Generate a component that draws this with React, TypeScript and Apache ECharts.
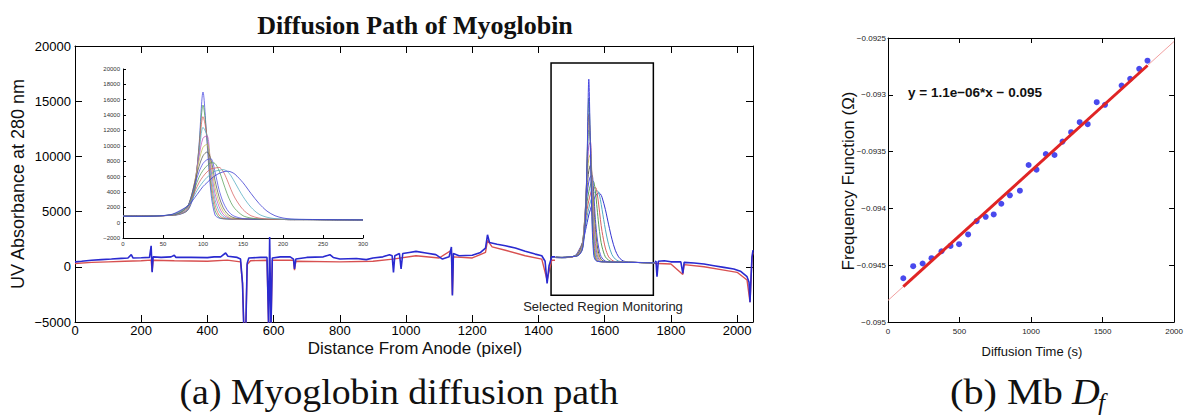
import React, { useEffect, useRef } from 'react';
import * as echarts from 'echarts';

// ---------- (a) main trace: [pixel, absorbance] ----------
const mainBlue: [number, number][] = [
  [0, 450], [20, 500], [50, 600], [80, 650], [110, 700], [140, 760], [160, 800], [170, 1100], [175, 800],
  [200, 820], [225, 850], [230, 1900], [233, -500], [236, 900], [260, 850], [290, 900], [300, 1050], [305, 850],
  [350, 850], [400, 830], [420, 900], [440, 900], [455, 1250], [462, 950], [490, 850], [500, 700], [506, -1500],
  [510, -5600], [516, -5600], [520, 300], [525, 800], [560, 850], [580, 850], [585, -5600], [588, 2700],
  [592, -5600], [596, 800], [620, 900], [650, 900], [660, 700], [663, -200], [667, 700], [700, 850], [750, 900],
  [770, 1100], [780, 850], [800, 700], [850, 750], [880, 650], [900, 800], [930, 900], [950, 1100], [958, 1000],
  [962, -500], [966, 1000], [980, 1200], [985, -200], [990, 1200], [1010, 1300], [1030, 1400], [1060, 1250],
  [1090, 1100], [1110, 700], [1130, 900], [1137, 1800], [1140, -2600], [1143, 1200], [1160, 1000], [1200, 1050],
  [1225, 1300], [1240, 1700], [1246, 2900], [1252, 2200], [1275, 2050], [1300, 1900], [1330, 1700], [1360, 1400],
  [1390, 1150], [1410, 1000], [1420, 500], [1426, -1500], [1432, 100], [1440, 900], [1450, 900]
];
const mainBlueTail: [number, number][] = [
  [1752, 450], [1755, 500], [1758, -900], [1762, 500], [1780, 550], [1800, 450], [1830, 450], [1836, -600],
  [1840, 400], [1870, 350], [1900, 250], [1930, 100], [1960, -50], [1990, -200], [2010, -400], [2030, -900],
  [2036, -1400], [2039, -3200], [2042, -1000], [2045, 900], [2048, 1500]
];
const mainRed: [number, number][] = [
  [0, 300], [50, 400], [100, 450], [150, 500], [200, 550], [230, 600], [233, -400], [236, 600], [300, 550],
  [400, 500], [460, 600], [500, 450], [506, -1500], [510, -5600], [516, -5600], [520, 200], [530, 550], [580, 600],
  [585, -5600], [592, -5600], [596, 600], [660, 600], [663, -300], [667, 500], [800, 450], [900, 500], [960, 700],
  [1030, 1000], [1100, 800], [1137, 1500], [1140, -2500], [1143, 900], [1200, 800], [1240, 1300], [1246, 2400],
  [1260, 1800], [1300, 1500], [1360, 1000], [1410, 700], [1426, -1200], [1440, 600], [1450, 600]
];
const mainRedTail: [number, number][] = [
  [1752, 300], [1762, 300], [1800, 250], [1836, -700], [1840, 200], [1900, 0], [1960, -300], [2000, -500],
  [2030, -1200], [2039, -3200], [2045, 800], [2048, 1300]
];
// where the inset's pixel 0 sits on the main axis
const regionStart = 1452;

// ---------- inset: selected region, one array per monitored profile ----------
const insetX = [0, 20, 40, 60, 70, 80, 85, 90, 95, 100, 105, 110, 115, 120, 125, 130, 135, 140, 150, 160, 170, 180, 190, 200, 210, 230, 260, 300];
const p1 = [880, 850, 900, 950, 1050, 1500, 2400, 4300, 10000, 17000, 10500, 3800, 1000, 600, 500, 480, 460, 450, 450, 440, 430, 420, 420, 410, 400, 400, 380, 360];
const p2 = [880, 860, 900, 950, 1080, 1550, 2600, 4700, 9800, 15300, 11000, 4600, 1600, 700, 520, 480, 460, 450, 450, 440, 430, 420, 420, 410, 400, 400, 380, 360];
const p3 = [870, 850, 890, 950, 1100, 1600, 2800, 5000, 9500, 13800, 11200, 5400, 2300, 1000, 600, 500, 470, 450, 450, 440, 430, 420, 420, 410, 400, 400, 380, 360];
const p4 = [870, 850, 890, 960, 1120, 1700, 3000, 5300, 9000, 12400, 11300, 6200, 3000, 1500, 800, 550, 480, 460, 450, 440, 430, 420, 420, 410, 400, 400, 380, 360];
const p5 = [860, 850, 880, 960, 1150, 1800, 3200, 5500, 8600, 11000, 11300, 7000, 3800, 2100, 1100, 700, 530, 470, 450, 440, 430, 420, 420, 410, 400, 400, 380, 360];
const p6 = [860, 840, 880, 970, 1180, 1900, 3300, 5500, 8000, 9800, 10200, 7700, 4600, 2700, 1500, 900, 600, 500, 460, 440, 430, 420, 420, 410, 400, 400, 380, 360];
const p7 = [850, 840, 880, 980, 1220, 2000, 3300, 5300, 7300, 8700, 9200, 8200, 5500, 3400, 2000, 1200, 800, 600, 480, 450, 430, 420, 420, 410, 400, 400, 380, 360];
const p8 = [850, 840, 870, 990, 1260, 2000, 3200, 5000, 6600, 7700, 8200, 8300, 6600, 4300, 2700, 1700, 1100, 800, 520, 460, 440, 420, 420, 410, 400, 400, 380, 360];
const p9 = [850, 830, 870, 1000, 1300, 2000, 3000, 4500, 5900, 6800, 7400, 7800, 7700, 6800, 5300, 3800, 2600, 1800, 900, 600, 470, 430, 420, 410, 400, 400, 380, 360];
const p10 = [840, 830, 860, 1010, 1400, 2100, 2900, 4100, 5200, 6000, 6600, 7000, 7100, 7200, 6700, 5600, 4300, 3200, 1700, 900, 600, 460, 430, 410, 400, 400, 380, 360];
const p11 = [840, 820, 860, 1030, 1400, 2100, 2800, 3700, 4600, 5300, 5900, 6300, 6700, 6800, 6900, 6700, 6100, 5200, 3400, 2000, 1100, 700, 520, 450, 420, 400, 380, 360];
const p12 = [830, 820, 850, 1050, 1500, 2100, 2600, 3300, 4000, 4700, 5200, 5700, 6100, 6400, 6600, 6700, 6600, 6300, 5200, 3800, 2500, 1500, 900, 600, 480, 420, 390, 360];
const profiles = [p1, p2, p3, p4, p5, p6, p7, p8, p9, p10, p11, p12];
const profileColors = ['#4646e0', '#4f9f55', '#e05a5a', '#4ab4c4', '#c050c0', '#c4c050', '#5a5a5a', '#5050e6', '#5aa05a', '#d86060', '#50acc0', '#3434d0'];

// ---------- (b) Mb D_f ----------
const diffTime = [107, 176, 242, 304, 374, 437, 497, 560, 620, 683, 739, 792, 852, 922, 983, 1038, 1103, 1164, 1220, 1280, 1340, 1396, 1459, 1517, 1633, 1693, 1756, 1814];
const freqFn = [-0.094615, -0.094509, -0.094485, -0.094438, -0.094377, -0.09433, -0.094315, -0.094229, -0.094112, -0.094074, -0.094053, -0.093959, -0.093885, -0.093844, -0.093618, -0.093659, -0.093521, -0.09353, -0.093412, -0.093329, -0.093241, -0.093259, -0.093065, -0.093088, -0.092918, -0.092859, -0.092771, -0.0927];
const fitFullX = [0, 2000];
const fitFullY = [-0.09481, -0.09253];
const fitX = [107, 1814];
const fitY = [-0.094688, -0.092742];

const mainXTicks = { min: 0, max: 2048, interval: 200 };
const mainYTicks = { min: -5000, max: 20000, interval: 5000 };
const insetXTicks = { min: 0, max: 300, interval: 50 };
const insetYTicks = { min: -2000, max: 20000, interval: 2000 };
const dfXTicks = { min: 0, max: 2000, interval: 500 };
const dfYTicks = { min: -0.095, max: -0.0925, interval: 0.0005 };

const SANS = 'Liberation Sans, Arial, sans-serif';
const SERIF = 'Liberation Serif, Times New Roman, serif';
const minus = (s: string) => s.replace('-', '\u2212');
const plain = (v: number) => minus(String(v));

function axis(grid: number, position: string, ticks: any, opts: any) {
  const { label, tickLen, lineWidth } = opts;
  return {
    type: 'value',
    gridIndex: grid,
    position,
    min: ticks.min,
    max: ticks.max,
    interval: ticks.interval,
    axisLine: { show: true, onZero: false, lineStyle: { color: '#000', width: lineWidth || 1 } },
    axisTick: { show: true, inside: true, length: tickLen, lineStyle: { color: '#000', width: 1 } },
    axisLabel: label ? { show: true, showMaxLabel: label.showMax !== false, formatter: plain, ...label.style } : { show: false },
    splitLine: { show: false },
  };
}

export default function App() {
  const ref = useRef<HTMLDivElement>(null);
  useEffect(() => {
    const chart = echarts.init(ref.current!, null, { renderer: 'svg' });

    const mainLabel = { fontSize: 13, color: '#000', fontFamily: SANS };
    const series: any[] = [];
    // main trace, lower (red) band
    series.push({ type: 'line', xAxisIndex: 0, yAxisIndex: 0, data: mainRed, showSymbol: false, lineStyle: { color: '#d85050', width: 1.4 } });
    series.push({ type: 'line', xAxisIndex: 0, yAxisIndex: 0, data: mainRedTail, showSymbol: false, lineStyle: { color: '#d85050', width: 1.4 } });
    // selected region, drawn on the main axis
    profiles.slice().reverse().forEach((p, k) => {
      const i = profiles.length - 1 - k;
      series.push({
        type: 'line', xAxisIndex: 0, yAxisIndex: 0, smooth: 0.3, showSymbol: false,
        data: p.map((v, j) => [insetX[j] + regionStart, v]),
        lineStyle: { color: profileColors[i], width: 1 },
      });
    });
    // main trace, upper (blue) band + selected-region box
    series.push({
      type: 'line', xAxisIndex: 0, yAxisIndex: 0, data: mainBlue, showSymbol: false,
      lineStyle: { color: '#2a2ad0', width: 1.6 },
      markArea: {
        silent: true,
        itemStyle: { color: 'rgba(0,0,0,0)', borderColor: '#000', borderWidth: 1.5 },
        data: [[{ xAxis: 1438, yAxis: 18460 }, { xAxis: 1747, yAxis: -2580 }]],
      },
    });
    series.push({ type: 'line', xAxisIndex: 0, yAxisIndex: 0, data: mainBlueTail, showSymbol: false, lineStyle: { color: '#2a2ad0', width: 1.6 } });

    // inset
    profiles.forEach((p, i) => {
      series.push({
        type: 'line', xAxisIndex: 2, yAxisIndex: 2, smooth: 0.3, showSymbol: false,
        data: p.map((v, j) => [insetX[j], v]),
        lineStyle: { color: profileColors[i], width: 0.9, opacity: 0.85 },
      });
    });

    // (b)
    series.push({ type: 'line', xAxisIndex: 3, yAxisIndex: 3, data: fitFullX.map((x, i) => [x, fitFullY[i]]), showSymbol: false, lineStyle: { color: '#f2a0a0', width: 1 } });
    series.push({ type: 'line', xAxisIndex: 3, yAxisIndex: 3, data: fitX.map((x, i) => [x, fitY[i]]), showSymbol: false, lineStyle: { color: '#e02424', width: 3 } });
    series.push({ type: 'scatter', xAxisIndex: 3, yAxisIndex: 3, data: diffTime.map((x, i) => [x, freqFn[i]]), symbolSize: 6, itemStyle: { color: '#1c1ce8' } });

    const option: any = {
      animation: false,
      backgroundColor: '#fff',
      grid: [
        { left: 75, top: 46, width: 678, height: 276 },
        { left: 123, top: 69, width: 240, height: 169 },
        { left: 888, top: 38, width: 287, height: 284 },
      ],
      xAxis: [
        axis(0, 'bottom', mainXTicks, { tickLen: 7, label: { showMax: false, style: { ...mainLabel, margin: 2 } } }),
        axis(0, 'top', mainXTicks, { tickLen: 7 }),
        axis(1, 'bottom', insetXTicks, { tickLen: 3, label: { style: { fontSize: 6, color: '#333', fontFamily: SANS, margin: 3 } } }),
        axis(2, 'bottom', dfXTicks, { tickLen: 5, label: { style: { fontSize: 8, color: '#222', fontFamily: SANS, margin: 5 } } }),
        axis(2, 'top', dfXTicks, { tickLen: 5 }),
      ],
      yAxis: [
        axis(0, 'left', mainYTicks, { tickLen: 7, label: { style: { ...mainLabel, margin: 4 } } }),
        axis(0, 'right', mainYTicks, { tickLen: 7 }),
        axis(1, 'left', insetYTicks, { tickLen: 3, label: { style: { fontSize: 6, color: '#333', fontFamily: SANS, margin: 3 } } }),
        axis(2, 'left', dfYTicks, { tickLen: 5, label: { style: { fontSize: 8, color: '#222', fontFamily: SANS, margin: 2, formatter: (v: number) => minus(String(+v.toFixed(4))) } } }),
        axis(2, 'right', dfYTicks, { tickLen: 5 }),
      ],
      series,
      graphic: [
        { type: 'text', x: 415, y: 25, style: { text: 'Diffusion Path of Myoglobin', font: `bold 26px ${SERIF}`, fill: '#111', align: 'center', verticalAlign: 'middle' } },
        { type: 'text', x: 18, y: 184, rotation: Math.PI / 2, style: { text: 'UV Absorbance at 280 nm', font: `18px ${SANS}`, fill: '#111', align: 'center', verticalAlign: 'middle' } },
        { type: 'text', x: 415, y: 348, style: { text: 'Distance From Anode (pixel)', font: `17px ${SANS}`, fill: '#111', align: 'center', verticalAlign: 'middle' } },
        { type: 'text', x: 603, y: 306, style: { text: 'Selected Region Monitoring', font: `13px ${SANS}`, fill: '#222', align: 'center', verticalAlign: 'middle' } },
        { type: 'text', x: 848, y: 181, rotation: Math.PI / 2, style: { text: 'Frequency Function (\u03A9)', font: `17px ${SANS}`, fill: '#111', align: 'center', verticalAlign: 'middle' } },
        { type: 'text', x: 1032, y: 351, style: { text: 'Diffusion Time (s)', font: `13px ${SANS}`, fill: '#111', align: 'center', verticalAlign: 'middle' } },
        { type: 'text', x: 908, y: 92, style: { text: 'y = 1.1e\u221206*x \u2212 0.095', font: `bold 13.5px ${SERIF.replace(SERIF, SANS)}`, fill: '#111', align: 'left', verticalAlign: 'middle' } },
        { type: 'text', x: 399, y: 392, scaleX: 1.08, style: { text: '(a) Myoglobin diffusion path', font: `35px ${SERIF}`, fill: '#111', align: 'center', verticalAlign: 'middle' } },
        { type: 'text', x: 1073, y: 392, scaleX: 1.15, style: { text: '(b) Mb ', font: `35px ${SERIF}`, fill: '#111', align: 'right', verticalAlign: 'middle' } },
        { type: 'text', x: 1072, y: 392, scaleX: 1.1, style: { text: 'D', font: `italic 35px ${SERIF}`, fill: '#111', align: 'left', verticalAlign: 'middle' } },
        { type: 'text', x: 1098, y: 402, style: { text: 'f', font: `italic 25px ${SERIF}`, fill: '#111', align: 'left', verticalAlign: 'middle' } },
      ],
    };
    chart.setOption(option);
    return () => chart.dispose();
  }, []);
  return <div ref={ref} style={{ position: 'fixed', left: 0, top: 0, width: 1186, height: 415, background: '#fff' }} />;
}
